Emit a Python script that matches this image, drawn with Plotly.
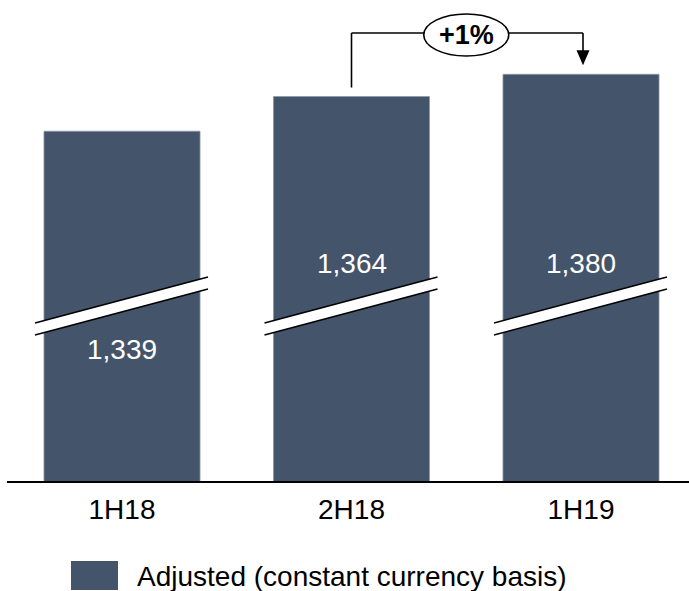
import plotly.graph_objects as go

# ---- data ----
CATEGORIES = ["1H18", "2H18", "1H19"]
VALUES = [1339, 1364, 1380]
GROWTH_LABEL = "+1%"
LEGEND_LABEL = "Adjusted (constant currency basis)"

# ---- style / geometry ----
W, H = 689, 591
PLOT_BOTTOM = 482          # pixel row of the baseline
Y0 = 1086.2                # truncated axis base
K = 1.3876                 # px per unit
Y1 = Y0 + PLOT_BOTTOM / K
XR = [-0.5316, 2.4706]
BAR_COLOR = "#44546a"
FONT = "Liberation Sans, Arial, sans-serif"
LABEL_PY = [349, 263, 263]  # vertical position (px) of value labels


def px_x(val):
    return (val - XR[0]) / (XR[1] - XR[0]) * W


def pxx(px):
    return px / W


def pxy(py):
    return (PLOT_BOTTOM - py) / PLOT_BOTTOM


def top_px(v):
    return PLOT_BOTTOM - (v - Y0) * K


fig = go.Figure()
fig.add_bar(
    x=CATEGORIES, y=VALUES, width=0.68,
    marker=dict(color=BAR_COLOR, line=dict(color="#8e99a8", width=0.8)),
    showlegend=False, hoverinfo="x+y",
)

shapes = []
annotations = []

# baseline
shapes.append(dict(type="line", xref="paper", yref="paper",
                   x0=pxx(7), x1=1, y0=0, y1=0,
                   line=dict(color="black", width=2), layer="above"))

# axis-break marks and value labels
for i, v in enumerate(VALUES):
    cx = px_x(i)
    xl, xr = cx - 87, cx + 86
    ul, ur = 323, 277
    gap = 12
    path = (f"M {pxx(xl)},{pxy(ul)} L {pxx(xr)},{pxy(ur)} "
            f"L {pxx(xr)},{pxy(ur + gap)} L {pxx(xl)},{pxy(ul + gap)} Z")
    shapes.append(dict(type="path", xref="paper", yref="paper", path=path,
                       fillcolor="white", line=dict(width=0), layer="above"))
    for off in (0, gap):
        shapes.append(dict(type="line", xref="paper", yref="paper",
                           x0=pxx(xl), y0=pxy(ul + off), x1=pxx(xr), y1=pxy(ur + off),
                           line=dict(color="black", width=1.6), layer="above"))
    annotations.append(dict(x=CATEGORIES[i], y=pxy(LABEL_PY[i]), xref="x", yref="paper",
                            text=f"{v:,}", showarrow=False,
                            font=dict(family=FONT, size=28, color="white"),
                            xanchor="center", yanchor="middle"))

# growth bracket
lx = px_x(1)
rx = px_x(2) + 2
y_h = 33
gap_px = 9
shapes.append(dict(type="line", xref="paper", yref="paper",
                   x0=pxx(lx), x1=pxx(lx), y0=pxy(top_px(VALUES[1]) - gap_px), y1=pxy(y_h),
                   line=dict(color="black", width=1.6)))
shapes.append(dict(type="line", xref="paper", yref="paper",
                   x0=pxx(lx), x1=pxx(rx), y0=pxy(y_h), y1=pxy(y_h),
                   line=dict(color="black", width=1.6)))
tip = top_px(VALUES[2]) - gap_px
shapes.append(dict(type="line", xref="paper", yref="paper",
                   x0=pxx(rx), x1=pxx(rx), y0=pxy(y_h), y1=pxy(tip - 12),
                   line=dict(color="black", width=1.6)))
shapes.append(dict(type="path", xref="paper", yref="paper",
                   path=(f"M {pxx(rx - 6.5)},{pxy(tip - 15)} L {pxx(rx + 6.5)},{pxy(tip - 15)} "
                         f"L {pxx(rx)},{pxy(tip)} Z"),
                   fillcolor="black", line=dict(width=0)))
mid = (px_x(1) + px_x(2)) / 2
shapes.append(dict(type="circle", xref="paper", yref="paper",
                   x0=pxx(mid - 42.5), x1=pxx(mid + 42.5), y0=pxy(56), y1=pxy(14),
                   fillcolor="white", line=dict(color="black", width=1.6)))
annotations.append(dict(x=pxx(mid), y=pxy(35), xref="paper", yref="paper",
                        text=f"<b>{GROWTH_LABEL}</b>", showarrow=False,
                        font=dict(family=FONT, size=27, color="black"),
                        xanchor="center", yanchor="middle"))

# legend
shapes.append(dict(type="rect", xref="paper", yref="paper",
                   x0=pxx(71), x1=pxx(118), y0=pxy(590), y1=pxy(561),
                   fillcolor=BAR_COLOR, line=dict(width=0)))
annotations.append(dict(x=pxx(135), y=pxy(576), xref="paper", yref="paper",
                        text=LEGEND_LABEL, showarrow=False,
                        font=dict(family=FONT, size=28, color="black"),
                        xanchor="left", yanchor="middle"))

fig.update_layout(
    width=W, height=H,
    margin=dict(l=0, r=0, t=0, b=H - PLOT_BOTTOM, pad=0),
    paper_bgcolor="white", plot_bgcolor="white",
    xaxis=dict(range=XR, showgrid=False, zeroline=False, showline=False,
               ticks="", tickfont=dict(family=FONT, size=28, color="black"),
               ticklabelstandoff=8, fixedrange=True),
    yaxis=dict(range=[Y0, Y1], visible=False, showgrid=False, zeroline=False,
               fixedrange=True),
    shapes=shapes, annotations=annotations,
    showlegend=False,
)

fig.write_html("out.html")
